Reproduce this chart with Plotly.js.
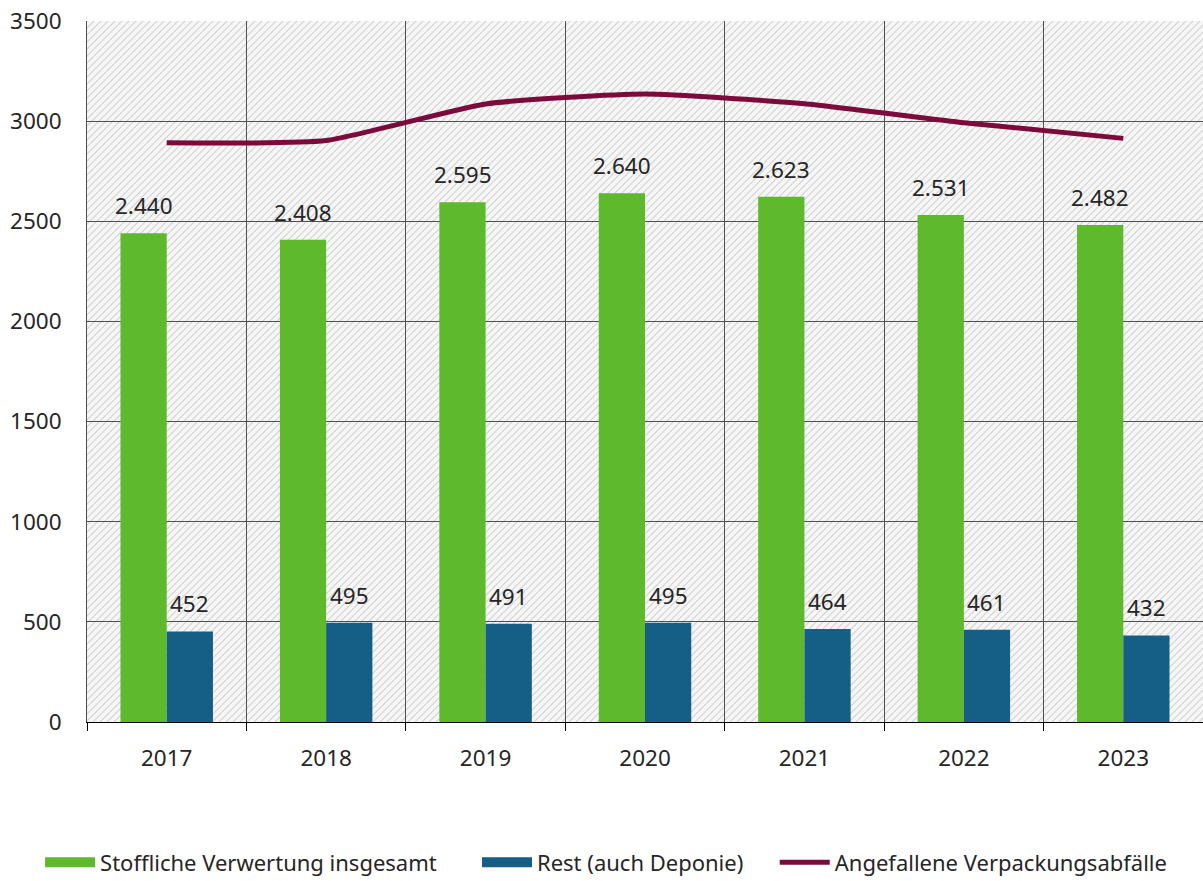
<!DOCTYPE html>
<html>
<head>
<meta charset="utf-8">
<script src="https://cdn.plot.ly/plotly-3.0.1.min.js"></script>
<style>html,body{margin:0;padding:0;background:#fff;}#chart{width:1203px;height:881px;}</style>
</head>
<body>
<div id="chart"></div>
<script>
const categories = ['2017', '2018', '2019', '2020', '2021', '2022', '2023'];
const stoffliche = [2440, 2408, 2595, 2640, 2623, 2531, 2482];
const rest = [452, 495, 491, 495, 464, 461, 432];
const angefallen = [2892, 2903, 3086, 3135, 3087, 2992, 2914];
const yTicks = [0, 500, 1000, 1500, 2000, 2500, 3000, 3500];
const seriesNames = ['Stoffliche Verwertung insgesamt', 'Rest (auch Deponie)', 'Angefallene Verpackungsabfälle'];
const colors = ['#5fb92d', '#155e86', '#7a0b3b'];

const FONT = 'Noto Sans, Open Sans, sans-serif';
const TXT = '#262626';

function fmt(v) { return String(v).replace(/\B(?=(\d{3})+(?!\d))/g, '.'); }

const W = 1116, H = 701;
const svg = `<svg xmlns="http://www.w3.org/2000/svg" width="${W}" height="${H}"><defs><pattern id="p" width="7" height="7" patternUnits="userSpaceOnUse"><rect width="7" height="7" fill="#f6f6f6"/><path d="M-1,1 l2,-2 M0,7 l7,-7 M6,8 l2,-2" stroke="#d2d2d2" stroke-width="1.1"/></pattern></defs><rect width="${W}" height="${H}" fill="url(#p)"/></svg>`;

const traces = [
  { type: 'bar', name: seriesNames[0], x: categories, y: stoffliche, marker: { color: colors[0] }, showlegend: false, legendgroup: 'a' },
  { type: 'bar', name: seriesNames[1], x: categories, y: rest, marker: { color: colors[1] }, showlegend: false, legendgroup: 'b' },
  { type: 'scatter', mode: 'lines', name: seriesNames[2], x: categories, y: angefallen, showlegend: false, legendgroup: 'c',
    line: { color: colors[2], width: 5, shape: 'spline', smoothing: 0.5 } },
  // legend-only entries (wide rectangle symbols like the reference)
  { type: 'scatter', mode: 'lines', name: seriesNames[0], x: [null], y: [null], legendgroup: 'a', legend: 'legend', line: { color: colors[0], width: 14 } },
  { type: 'scatter', mode: 'lines', name: seriesNames[1], x: [null], y: [null], legendgroup: 'b', legend: 'legend2', line: { color: colors[1], width: 14 } },
  { type: 'scatter', mode: 'lines', name: seriesNames[2], x: [null], y: [null], legendgroup: 'c', legend: 'legend3', line: { color: colors[2], width: 5 } }
];

const annotations = [];
categories.forEach((c, i) => {
  annotations.push({ x: i, y: stoffliche[i], xref: 'x', yref: 'y', text: fmt(stoffliche[i]), showarrow: false,
    xanchor: 'center', yanchor: 'bottom', xshift: -23, yshift: 10, font: { family: FONT, size: 22.5, color: TXT } });
  annotations.push({ x: i, y: rest[i], xref: 'x', yref: 'y', text: fmt(rest[i]), showarrow: false,
    xanchor: 'center', yanchor: 'bottom', xshift: 23, yshift: 10, font: { family: FONT, size: 22.5, color: TXT } });
});

function legendAt(x) {
  return { orientation: 'h', xref: 'container', yref: 'container', x: x, xanchor: 'left', y: 0.021, yanchor: 'middle',
    font: { family: FONT, size: 22, color: TXT }, itemwidth: 50, bgcolor: 'rgba(0,0,0,0)' };
}

const layout = {
  width: 1203, height: 881,
  margin: { l: 87, r: 0, t: 21, b: 159 },
  paper_bgcolor: '#ffffff', plot_bgcolor: '#ffffff',
  barmode: 'group', bargap: 0.42, bargroupgap: 0,
  font: { family: FONT, color: TXT },
  showlegend: true,
  legend: legendAt(0.0333),
  legend2: legendAt(0.3965),
  legend3: legendAt(0.644),
  xaxis: { type: 'category', categoryorder: 'array', categoryarray: categories, range: [-0.5, 6.5], autorange: false,
    tickson: 'boundaries', showgrid: true, gridcolor: '#505050', gridwidth: 1,
    ticks: 'outside', ticklen: 8, tickcolor: '#000', showline: true, linecolor: '#000', linewidth: 1.3,
    tickangle: 0, tickfont: { family: FONT, size: 22.5, color: TXT }, ticklabelstandoff: 16, fixedrange: true },
  yaxis: { range: [0, 3500], autorange: false, tickvals: yTicks, ticktext: yTicks.map(String), showgrid: true, gridcolor: '#505050', gridwidth: 1,
    zeroline: false, showline: true, linecolor: '#505050', linewidth: 1, ticks: '', ticklabelstandoff: 20,
    tickfont: { family: FONT, size: 22.5, color: TXT }, fixedrange: true },
  images: [{ source: 'data:image/svg+xml;charset=utf-8,' + encodeURIComponent(svg), xref: 'x domain', yref: 'y domain',
    x: 0, y: 1, sizex: 1, sizey: 1, xanchor: 'left', yanchor: 'top', sizing: 'stretch', layer: 'below' }],
  annotations: annotations
};

Plotly.newPlot('chart', traces, layout, { displayModeBar: false, staticPlot: true });
</script>
</body>
</html>
